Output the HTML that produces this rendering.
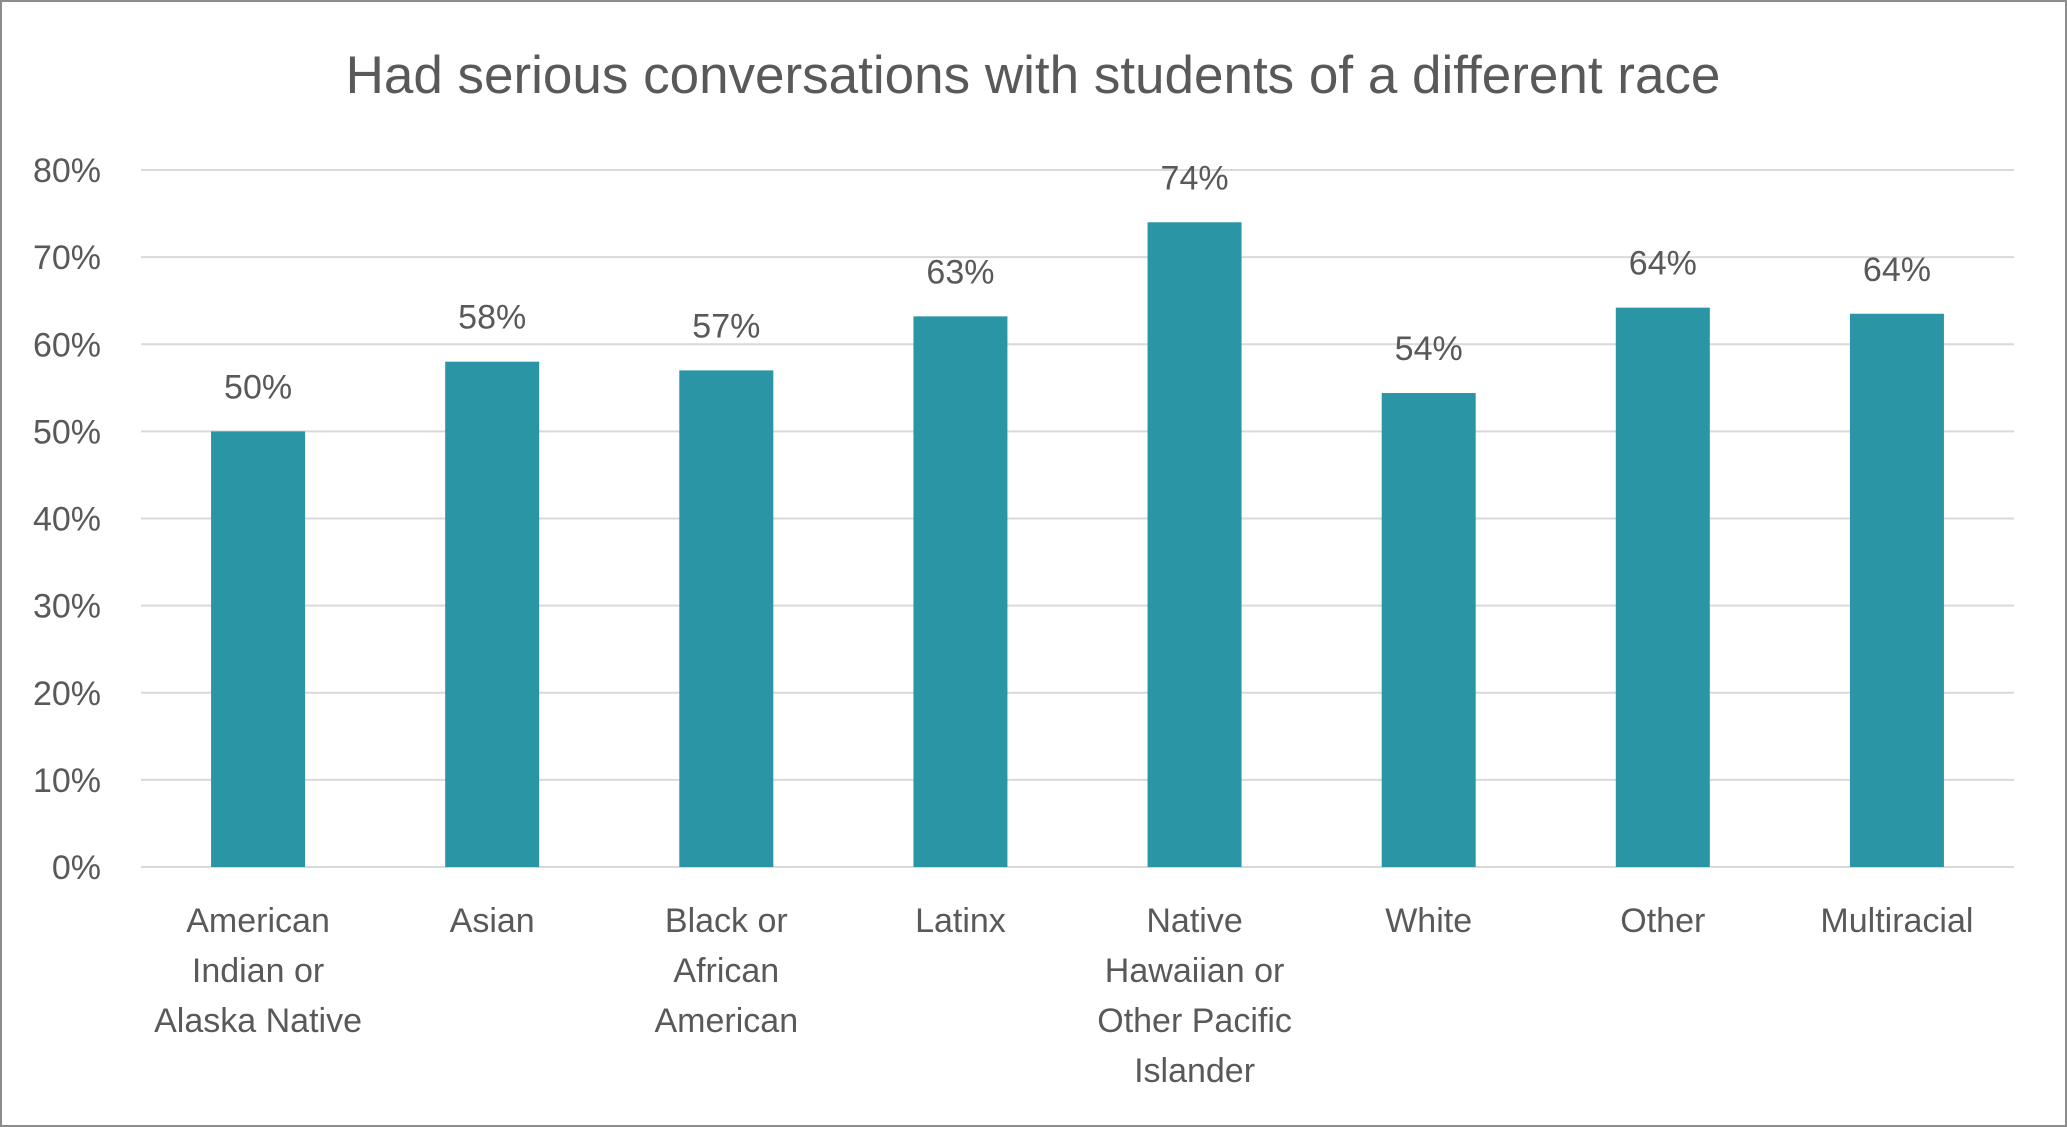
<!DOCTYPE html>
<html><head><meta charset="utf-8"><style>
html,body{margin:0;padding:0;background:#fff}
svg{display:block}
text{font-family:"Liberation Sans","DejaVu Sans",sans-serif;fill:#595959}
</style></head><body>
<svg id="chart" width="2067" height="1127" viewBox="0 0 2067 1127" xmlns="http://www.w3.org/2000/svg">
<rect x="1" y="1" width="2065" height="1125" fill="#fff" stroke="#8c8c8c" stroke-width="2"/>
<text x="1033" y="93" font-size="53" text-anchor="middle">Had serious conversations with students of a different race</text>
<g id="grid"></g><g id="bars"></g><g id="labels"></g>
</svg>
<script>
const categories=[["American","Indian or","Alaska Native"],["Asian"],["Black or","African","American"],["Latinx"],["Native","Hawaiian or","Other Pacific","Islander"],["White"],["Other"],["Multiracial"]];
const values=[50,58,57,63.2,74,54.4,64.2,63.5];
const valueLabels=["50%","58%","57%","63%","74%","54%","64%","64%"];
const ticks=[0,10,20,30,40,50,60,70,80];
const tickLabels=["0%","10%","20%","30%","40%","50%","60%","70%","80%"];
const NS="http://www.w3.org/2000/svg";
const x0=141,x1=2014,yBase=867,yTop=170,vMax=80;
const band=(x1-x0)/categories.length,barW=94;
const y=v=>yBase-(v/vMax)*(yBase-yTop);
const xc=i=>x0+band*(i+0.5);
function mk(tag,attrs,parent){const e=document.createElementNS(NS,tag);for(const k in attrs)e.setAttribute(k,attrs[k]);document.getElementById(parent).appendChild(e);return e;}
ticks.forEach((t,i)=>{
 const l=mk("line",{x1:x0,x2:x1,y1:y(t),y2:y(t),stroke:"#d9d9d9","stroke-width":2},"grid");
 
 
 const tx=mk("text",{x:101,y:y(t)+12,"font-size":34,"text-anchor":"end"},"grid");
 tx.textContent=tickLabels[i];
 
 
});
values.forEach((v,i)=>{
 const r=mk("rect",{x:xc(i)-barW/2,y:y(v),width:barW,height:yBase-y(v),fill:"#2a95a5"},"bars");
 
 
 const t=mk("text",{x:xc(i),y:y(v)-33,"font-size":34,"text-anchor":"middle"},"labels");
 t.textContent=valueLabels[i];
 
 
 categories[i].forEach((line,j)=>{
  const c=mk("text",{x:xc(i),y:932+j*50,"font-size":34,"text-anchor":"middle"},"labels");
  c.textContent=line;
  
  
 });
});
const ax=mk("line",{x1:x0,x2:x1,y1:yBase,y2:yBase,stroke:"#d9d9d9","stroke-width":2},"grid");


</script>
</body></html>
